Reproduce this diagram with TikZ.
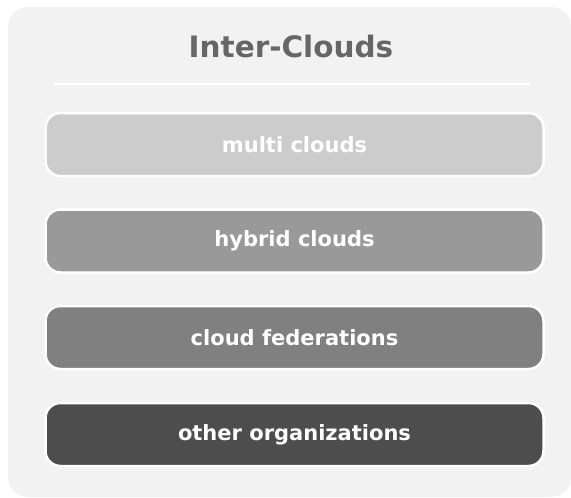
\documentclass[tikz,border=0pt]{standalone}
\usepackage{fontspec}
\setmainfont{DejaVu Sans}
\usepackage{tikz}

\definecolor{panel}{HTML}{F2F2F2}
\definecolor{titlegray}{HTML}{666666}
\definecolor{levA}{HTML}{CCCCCC}
\definecolor{levB}{HTML}{999999}
\definecolor{levC}{HTML}{808080}
\definecolor{levD}{HTML}{4D4D4D}

\begin{document}
\begin{tikzpicture}[x=1pt,y=-1pt,
	level/.style={draw=white, line width=2.5pt, rounded corners=15pt, minimum width=498pt, minimum height=63pt, text=white, font=\bfseries\fontsize{21}{25}\selectfont}]
	\useasboundingbox (0,0) rectangle (571,498);
	\fill[panel, rounded corners=20pt] (8,7) rectangle (571,497);
	\node[text=titlegray, font=\bfseries\fontsize{29.5}{34}\selectfont] (title) at (291,47) {Inter-Clouds};
	\coordinate (ruleL) at (54,84);
	\coordinate (ruleR) at (530,84);
	\draw[white, line width=2.5pt] (ruleL) -- (ruleR);
	
	\node[level, fill=levA] (multi) at (294.5,144.5) {multi clouds};
	\node[level, fill=levB] (hybrid) at (294.5,241) {hybrid clouds};
	\node[level, fill=levC] (fed) at (294.5,337.5) {cloud federations};
	\node[level, fill=levD] (other) at (294.5,434.5) {other organizations};
	
\end{tikzpicture}
\end{document}
